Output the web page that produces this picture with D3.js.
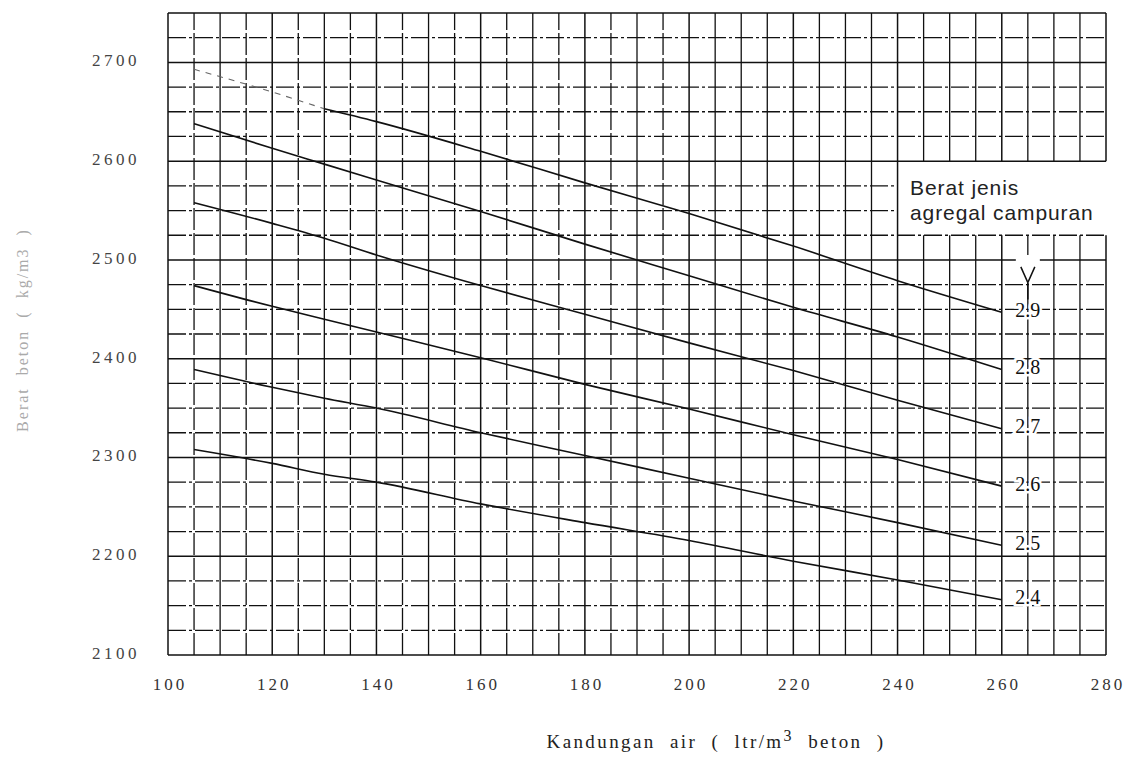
<!DOCTYPE html>
<html>
<head>
<meta charset="utf-8">
<script src="https://cdn.jsdelivr.net/npm/d3@7"></script>
<style>
  html, body { margin: 0; padding: 0; background: #fff; }
  svg { display: block; }
</style>
</head>
<body>
<svg id="chart" width="1131" height="758"></svg>
<script>
// ---------- DATA ----------
const xTickLabels = [100, 120, 140, 160, 180, 200, 220, 240, 260, 280];
const yTickLabels = [2100, 2200, 2300, 2400, 2500, 2600, 2700];
const water = [105, 120, 130, 140, 160, 180, 200, 220, 240, 260];
const sg29 = [2693, 2670, 2653, 2640, 2610, 2578, 2547, 2514, 2479, 2447];
const sg28 = [2638, 2613, 2597, 2581, 2549, 2516, 2484, 2452, 2422, 2389];
const sg27 = [2558, 2537, 2522, 2505, 2474, 2445, 2416, 2388, 2358, 2329];
const sg26 = [2474, 2453, 2440, 2427, 2401, 2374, 2349, 2323, 2298, 2271];
const sg25 = [2389, 2371, 2360, 2350, 2325, 2302, 2279, 2256, 2234, 2211];
const sg24 = [2308, 2294, 2283, 2275, 2253, 2234, 2216, 2195, 2176, 2156];
const seriesNames = ["2.9", "2.8", "2.7", "2.6", "2.5", "2.4"];
const seriesValues = [sg29, sg28, sg27, sg26, sg25, sg24];
const legendTitle = ["Berat jenis", "agregal campuran"];
const xTitle = ["Kandungan  air  (  ltr/m", "3", "  beton  )"];
const yTitle = "Berat  beton  (  kg/m3  )";

// ---------- SCALES ----------
const svg = d3.select("#chart");
const x = d3.scaleLinear().domain([100, 280]).range([168, 1106]);
const y = d3.scaleLinear().domain([2100, 2750]).range([655, 13]);

// ---------- GRID ----------
const grid = svg.append("g").attr("stroke", "#111").attr("fill", "none");
const vLines = d3.range(100, 280.1, 5);
const hLines = d3.range(2100, 2750.1, 25);
const gapX0 = 240, gapY0 = 2525, gapY1 = 2600;

vLines.forEach(v => {
  const segs = (v > 240) ? [[2100, gapY0], [gapY1, 2750]] : [[2100, 2750]];
  segs.forEach(s => {
    grid.append("line")
      .attr("x1", x(v)).attr("x2", x(v))
      .attr("y1", y(s[0])).attr("y2", y(s[1]))
      .attr("stroke-width", v % 20 === 0 ? 1.5 : 1.3)
      .attr("stroke-dasharray", (v % 10 === 5 && v < 200 && v > 100) ? "22,3" : null);
  });
});
hLines.forEach(h => {
  const inGap = h > gapY0 && h < gapY1;
  const x1 = inGap ? gapX0 : 280;
  grid.append("line")
    .attr("x1", x(100)).attr("x2", x(x1))
    .attr("y1", y(h)).attr("y2", y(h))
    .attr("stroke-width", h % 100 === 0 ? 1.5 : 1.3)
    .attr("stroke-dasharray", (h % 100 === 0 || h === 2100 || h === 2750) ? null : "18,3,3,3");
});

// ---------- SERIES ----------
const line = d3.line()
  .x(d => x(d[0])).y(d => y(d[1]))
  .curve(d3.curveMonotoneX);

seriesValues.forEach((vals, i) => {
  const pts = water.map((w, j) => [w, vals[j]]);
  if (i === 0) {
    svg.append("path")
      .datum(pts.filter(p => p[0] <= 130))
      .attr("d", line).attr("fill", "none")
      .attr("stroke", "#666").attr("stroke-width", 1.1)
      .attr("stroke-dasharray", "6,6");
    svg.append("path")
      .datum(pts.filter(p => p[0] >= 130))
      .attr("d", line).attr("fill", "none")
      .attr("stroke", "#111").attr("stroke-width", 1.6);
  } else {
    svg.append("path")
      .datum(pts)
      .attr("d", line).attr("fill", "none")
      .attr("stroke", "#111").attr("stroke-width", 1.6);
  }
  svg.append("text")
    .attr("x", x(265)).attr("y", y(vals[vals.length - 1]))
    .attr("text-anchor", "middle").attr("dominant-baseline", "middle")
    .attr("font-family", "Liberation Serif, serif").attr("font-size", 20)
    .attr("fill", "#111")
    .attr("stroke", "#fff").attr("stroke-width", 5).attr("paint-order", "stroke")
    .text(seriesNames[i]);
});

// ---------- LEGEND TITLE + ARROW ----------
legendTitle.forEach((t, i) => {
  svg.append("text")
    .attr("x", 910).attr("y", 195 + i * 25)
    .attr("font-family", "Liberation Sans, Arial, sans-serif")
    .attr("font-size", 21).attr("fill", "#222")
    .attr("letter-spacing", 0.9)
    .text(t);
});
svg.append("rect").attr("x", x(265) - 12).attr("y", y(2505)).attr("width", 24).attr("height", 28).attr("fill", "#fff");
svg.append("path")
  .attr("d", `M${x(265) - 7},${y(2493)} L${x(265)},${y(2477)} L${x(265) + 7},${y(2493)} M${x(265)},${y(2477)} L${x(265)},${y(2460)}`)
  .attr("fill", "none").attr("stroke", "#111").attr("stroke-width", 1.5);

// ---------- AXIS LABELS ----------
const tickFont = "Liberation Serif, serif";
xTickLabels.forEach(v => {
  svg.append("text")
    .attr("x", x(v) + 2).attr("y", 690)
    .attr("text-anchor", "middle")
    .attr("font-family", tickFont).attr("font-size", 17)
    .attr("letter-spacing", 3).attr("fill", "#333")
    .text(v);
});
yTickLabels.forEach(v => {
  svg.append("text")
    .attr("x", 140).attr("y", y(v))
    .attr("text-anchor", "end").attr("dominant-baseline", "middle")
    .attr("font-family", tickFont).attr("font-size", 17)
    .attr("letter-spacing", 3.5).attr("fill", "#444")
    .text(v);
});

const xt = svg.append("text")
  .attr("x", 716).attr("y", 748)
  .attr("text-anchor", "middle")
  .attr("font-family", tickFont).attr("font-size", 19)
  .attr("letter-spacing", 2.4).attr("fill", "#222")
  .style("white-space", "pre");
xt.append("tspan").text(xTitle[0]);
xt.append("tspan").attr("dy", -7).attr("font-size", 16).text(xTitle[1]);
xt.append("tspan").attr("dy", 7).text(xTitle[2]);

svg.append("text")
  .attr("transform", "translate(24,330) rotate(-90)")
  .attr("text-anchor", "middle").attr("dominant-baseline", "middle")
  .attr("font-family", tickFont).attr("font-size", 16)
  .attr("letter-spacing", 2).attr("fill", "#aaa")
  .style("white-space", "pre")
  .text(yTitle);
</script>
</body>
</html>
